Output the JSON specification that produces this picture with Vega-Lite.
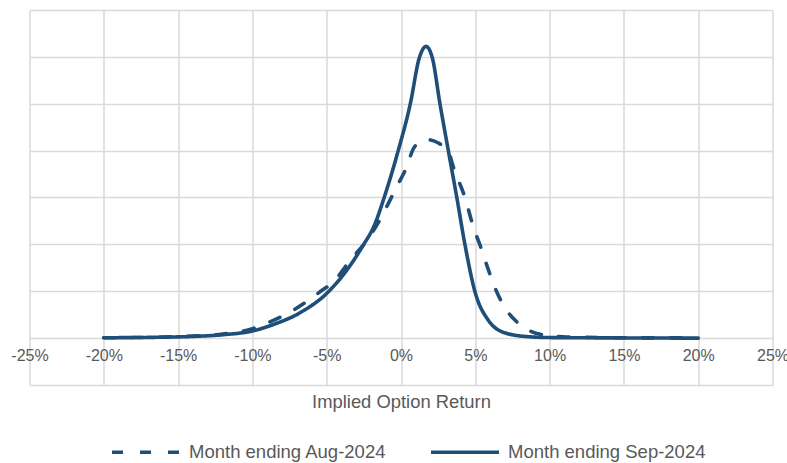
{
  "$schema": "https://vega.github.io/schema/vega-lite/v6.json",
  "width": 743,
  "height": 375,
  "autosize": {"type": "none"},
  "padding": {"left": 29.5, "top": 10, "right": 14.5, "bottom": 78},
  "background": "#ffffff",
  "config": {
    "view": {"stroke": null},
    "font": "Liberation Sans",
    "axis": {"gridColor": "#d9d9d9", "gridWidth": 1.5, "gridOpacity": 1}
  },
  "data": {
    "values": [
      {"month": "Month ending Aug-2024", "ret": -20, "density": 0.0002},
      {"month": "Month ending Aug-2024", "ret": -18, "density": 0.0003},
      {"month": "Month ending Aug-2024", "ret": -16, "density": 0.0006},
      {"month": "Month ending Aug-2024", "ret": -14, "density": 0.0011},
      {"month": "Month ending Aug-2024", "ret": -12, "density": 0.0022},
      {"month": "Month ending Aug-2024", "ret": -10, "density": 0.005},
      {"month": "Month ending Aug-2024", "ret": -8.82, "density": 0.0087},
      {"month": "Month ending Aug-2024", "ret": -7.25, "density": 0.0149},
      {"month": "Month ending Aug-2024", "ret": -5.45, "density": 0.0247},
      {"month": "Month ending Aug-2024", "ret": -4.56, "density": 0.03},
      {"month": "Month ending Aug-2024", "ret": -3.32, "density": 0.0425},
      {"month": "Month ending Aug-2024", "ret": -2.5, "density": 0.05},
      {"month": "Month ending Aug-2024", "ret": -1.5, "density": 0.062},
      {"month": "Month ending Aug-2024", "ret": -0.74, "density": 0.0736},
      {"month": "Month ending Aug-2024", "ret": -0.29, "density": 0.0807},
      {"month": "Month ending Aug-2024", "ret": 0.38, "density": 0.0913},
      {"month": "Month ending Aug-2024", "ret": 0.83, "density": 0.101},
      {"month": "Month ending Aug-2024", "ret": 1.3, "density": 0.1045},
      {"month": "Month ending Aug-2024", "ret": 1.73, "density": 0.1059},
      {"month": "Month ending Aug-2024", "ret": 2.2, "density": 0.1052},
      {"month": "Month ending Aug-2024", "ret": 2.62, "density": 0.1036},
      {"month": "Month ending Aug-2024", "ret": 3.18, "density": 0.0998},
      {"month": "Month ending Aug-2024", "ret": 3.52, "density": 0.0913},
      {"month": "Month ending Aug-2024", "ret": 4.31, "density": 0.0748},
      {"month": "Month ending Aug-2024", "ret": 4.87, "density": 0.0593},
      {"month": "Month ending Aug-2024", "ret": 5.32, "density": 0.0496},
      {"month": "Month ending Aug-2024", "ret": 5.9, "density": 0.036},
      {"month": "Month ending Aug-2024", "ret": 6.44, "density": 0.0247},
      {"month": "Month ending Aug-2024", "ret": 7.1, "density": 0.015},
      {"month": "Month ending Aug-2024", "ret": 7.79, "density": 0.0087},
      {"month": "Month ending Aug-2024", "ret": 8.5, "density": 0.0045},
      {"month": "Month ending Aug-2024", "ret": 9.13, "density": 0.0025},
      {"month": "Month ending Aug-2024", "ret": 10.9, "density": 0.0007},
      {"month": "Month ending Aug-2024", "ret": 12.5, "density": 0.0004},
      {"month": "Month ending Aug-2024", "ret": 15, "density": 0.0002},
      {"month": "Month ending Aug-2024", "ret": 20, "density": 0.0001},
      {"month": "Month ending Sep-2024", "ret": -20, "density": 0.0002},
      {"month": "Month ending Sep-2024", "ret": -18, "density": 0.0003},
      {"month": "Month ending Sep-2024", "ret": -16, "density": 0.0005},
      {"month": "Month ending Sep-2024", "ret": -14, "density": 0.0009},
      {"month": "Month ending Sep-2024", "ret": -12, "density": 0.0018},
      {"month": "Month ending Sep-2024", "ret": -10, "density": 0.0038},
      {"month": "Month ending Sep-2024", "ret": -8.5, "density": 0.0075},
      {"month": "Month ending Sep-2024", "ret": -6.8, "density": 0.0135},
      {"month": "Month ending Sep-2024", "ret": -4.89, "density": 0.0247},
      {"month": "Month ending Sep-2024", "ret": -3.65, "density": 0.0362},
      {"month": "Month ending Sep-2024", "ret": -2.54, "density": 0.0496},
      {"month": "Month ending Sep-2024", "ret": -1.8, "density": 0.06},
      {"month": "Month ending Sep-2024", "ret": -1.12, "density": 0.0753},
      {"month": "Month ending Sep-2024", "ret": -0.18, "density": 0.1002},
      {"month": "Month ending Sep-2024", "ret": 0.63, "density": 0.1251},
      {"month": "Month ending Sep-2024", "ret": 1.23, "density": 0.1494},
      {"month": "Month ending Sep-2024", "ret": 1.68, "density": 0.1556},
      {"month": "Month ending Sep-2024", "ret": 2.11, "density": 0.1494},
      {"month": "Month ending Sep-2024", "ret": 2.62, "density": 0.1251},
      {"month": "Month ending Sep-2024", "ret": 3.18, "density": 0.1002},
      {"month": "Month ending Sep-2024", "ret": 3.75, "density": 0.0753},
      {"month": "Month ending Sep-2024", "ret": 4.31, "density": 0.0496},
      {"month": "Month ending Sep-2024", "ret": 4.98, "density": 0.0247},
      {"month": "Month ending Sep-2024", "ret": 5.87, "density": 0.0096},
      {"month": "Month ending Sep-2024", "ret": 7.11, "density": 0.0025},
      {"month": "Month ending Sep-2024", "ret": 8.68, "density": 0.0007},
      {"month": "Month ending Sep-2024", "ret": 10, "density": 0.0003},
      {"month": "Month ending Sep-2024", "ret": 12, "density": 0.0002},
      {"month": "Month ending Sep-2024", "ret": 15, "density": 0.0001},
      {"month": "Month ending Sep-2024", "ret": 20, "density": 0}
    ]
  },
  "mark": {"type": "line", "interpolate": "monotone", "strokeWidth": 3.6, "strokeCap": "round", "color": "#1f4e79"},
  "encoding": {
    "x": {
      "field": "ret",
      "type": "quantitative",
      "scale": {"domain": [-25, 25], "nice": false, "zero": false},
      "axis": {
        "values": [-25, -20, -15, -10, -5, 0, 5, 10, 15, 20, 25],
        "labelExpr": "datum.value + '%'",
        "offset": -46.875,
        "domain": false,
        "ticks": false,
        "tickSize": 0,
        "labelPadding": 9,
        "labelFontSize": 16,
        "labelColor": "#595959",
        "labelFont": "Liberation Sans",
        "labelOverlap": false,
        "labelFlush": false,
        "labelBound": false,
        "title": "Implied Option Return",
        "titleFont": "Liberation Sans",
        "titleFontSize": 18.4,
        "titleFontWeight": "normal",
        "titleColor": "#595959",
        "titlePadding": 29
      }
    },
    "y": {
      "field": "density",
      "type": "quantitative",
      "scale": {"domain": [-0.025, 0.175], "nice": false, "zero": false},
      "axis": {
        "values": [-0.025, 0, 0.025, 0.05, 0.075, 0.1, 0.125, 0.15, 0.175],
        "labels": false,
        "ticks": false,
        "domain": false,
        "title": null
      }
    },
    "strokeDash": {
      "field": "month",
      "type": "nominal",
      "scale": {"domain": ["Month ending Aug-2024", "Month ending Sep-2024"], "range": [[11, 17], [1, 0]]},
      "legend": {
        "title": null,
        "orient": "none",
        "legendX": 80.5,
        "legendY": 406,
        "direction": "horizontal",
        "symbolType": "stroke",
        "symbolSize": 4624,
        "symbolStrokeWidth": 3.6,
        "symbolStrokeColor": "#1f4e79",
        "labelFontSize": 18.5,
        "labelFont": "Liberation Sans",
        "labelColor": "#595959",
        "labelLimit": 400,
        "labelOffset": 7,
        "columnPadding": 36
      }
    }
  }
}
